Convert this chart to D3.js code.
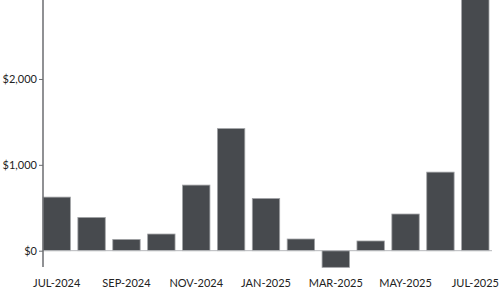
<!DOCTYPE html>
<html><head><meta charset="utf-8">
<script src="https://cdn.jsdelivr.net/npm/d3@7"></script>
<style>html,body{margin:0;padding:0;background:#fff;}svg{display:block;}</style>
</head><body>
<svg id="c" width="502" height="298"></svg>
<script>
const months = ["JUL-2024","AUG-2024","SEP-2024","OCT-2024","NOV-2024","DEC-2024","JAN-2025","FEB-2025","MAR-2025","APR-2025","MAY-2025","JUN-2025","JUL-2025"];
const values = [624, 387, 131, 194, 764, 1422, 608, 136, -194, 113, 427, 915, 3200];
const yTicks = [0, 1000, 2000];
const xTickLabels = ["JUL-2024","SEP-2024","NOV-2024","JAN-2025","MAR-2025","MAY-2025","JUL-2025"];

(function(){
const svg = d3.select("#c");
const mLeft = 43, mRight = 489, mTop = 0, mBottom = 267;
const x = d3.scaleBand().domain(months).range([mLeft, mRight]).paddingInner(0.215).paddingOuter(0);
const y = d3.scaleLinear().domain([-190, 2920]).range([mBottom, mTop]);

const g = svg.append("g");
g.selectAll("rect.bar").data(months.map((m,i)=>({m, v: values[i]})))
  .enter().append("rect").attr("class","bar")
  .attr("x", d=>x(d.m))
  .attr("width", x.bandwidth())
  .attr("y", d=>Math.min(y(d.v), y(0)))
  .attr("height", d=>Math.abs(y(d.v)-y(0)))
  .attr("fill", "#474a4e")
  .attr("stroke", "#a0a2a5")
  .attr("stroke-width", 0.8);

// zero line
g.append("line").attr("x1", mLeft).attr("x2", 492).attr("y1", y(0)).attr("y2", y(0))
  .attr("stroke", "#b5b7ba").attr("stroke-width", 1);

// y axis
const yAxis = d3.axisLeft(y).tickValues(yTicks).tickSize(4).tickPadding(2)
  .tickFormat(d => "$" + d3.format(",")(d));
const ya = svg.append("g").attr("transform", `translate(${mLeft},0)`).call(yAxis);
ya.select(".domain").attr("stroke", "#6b6d70").attr("stroke-width", 1.5).attr("d", `M0,${mTop}V${mBottom}`);
ya.selectAll(".tick line").attr("stroke", "#6b6d70");
ya.selectAll("text").attr("font-family", "Lato, sans-serif").attr("font-size", 11).attr("fill", "#222");

// x axis labels
const xAxis = d3.axisBottom(x).tickValues(xTickLabels).tickSize(0).tickPadding(12);
const xa = svg.append("g").attr("transform", `translate(0,${mBottom})`).call(xAxis);
xa.select(".domain").remove();
xa.selectAll("text").attr("font-family", "Lato, sans-serif").attr("font-size", 11).attr("fill", "#222");
})();
</script>
</body></html>
